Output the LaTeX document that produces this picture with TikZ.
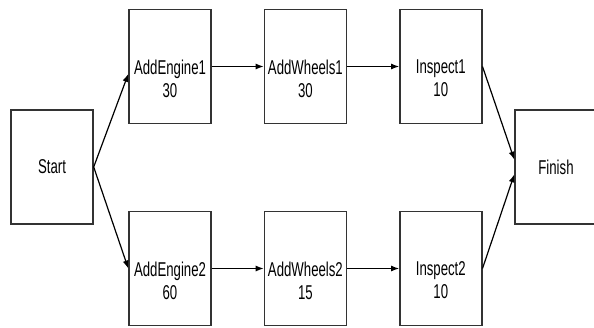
\documentclass[tikz,border=0pt]{standalone}
\usepackage{fontspec}
\newfontfamily\boxfont[FakeStretch=0.66]{Liberation Sans}
\usetikzlibrary{arrows.meta, positioning}
\tikzstyle{job} = [draw=black!80, line width=1.4pt, minimum width=82pt, minimum height=114pt, inner sep=0pt]
\tikzstyle{jobtext} = [align=center, font=\boxfont\fontsize{20}{23}\selectfont, yshift=-12pt]
\tikzstyle{arrow} = [-{Latex[length=8pt, width=6pt]}, line width=1.2pt]

\begin{document}
\begin{tikzpicture}[x=1pt, y=-1pt]
            \clip (0,0) rectangle (594,327);
            % The jobs
            \node[job, label={[jobtext, yshift=12pt]center:Start}] (start) at (52,167) {};
            \node[job, label={[jobtext]center:AddEngine1\\30}] (engine1) at (170,66.5) {};
            \node[job, label={[jobtext]center:AddWheels1\\30}] (wheels1) [right = 52pt of engine1] {};
            \node[job, label={[jobtext]center:Inspect1\\10}] (inspect1) [right = 52pt of wheels1] {};
            \node[job, label={[jobtext]center:AddEngine2\\60}] (engine2) at (170,268.5) {};
            \node[job, label={[jobtext]center:AddWheels2\\15}] (wheels2) [right = 52pt of engine2] {};
            \node[job, label={[jobtext]center:Inspect2\\10}] (inspect2) [right = 52pt of wheels2] {};
            \node[job, label={[jobtext, yshift=12pt]center:Finish}] (finish) at (556,167) {};

            % The arrows
            \draw[arrow] (start.east) -- (engine1.190);
            \draw[arrow] (start.east) -- (engine2.west);
            \draw[arrow] (engine1) -- (wheels1);
            \draw[arrow] (wheels1) -- (inspect1);
            \draw[arrow] (engine2) -- (wheels2);
            \draw[arrow] (wheels2) -- (inspect2);
            \draw[arrow] (inspect1.east) -- (finish.170);
            \draw[arrow] (inspect2.east) -- (finish.190);
        \end{tikzpicture}
\end{document}
